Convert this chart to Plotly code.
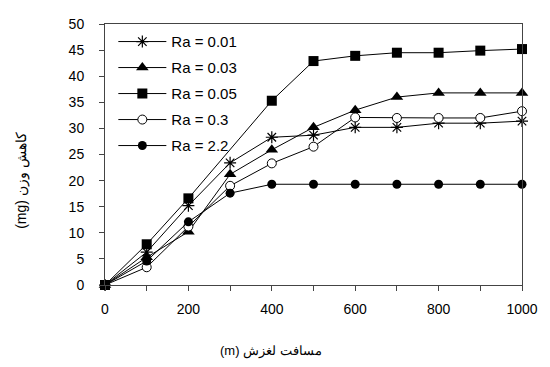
import plotly.graph_objects as go

distance = [0, 100, 200, 300, 400, 500, 600, 700, 800, 900, 1000]
ra_001 = [0, 6.3, 15.2, 23.4, 28.3, 28.7, 30.2, 30.2, 31.0, 31.0, 31.4]
ra_003 = [0, 5.3, 10.2, 21.2, 25.9, 30.2, 33.5, 36.0, 36.8, 36.8, 36.8]
ra_005 = [0, 7.8, 16.6, None, 35.3, 42.9, 43.9, 44.5, 44.5, 44.9, 45.2]
ra_03 = [0, 3.4, 11.2, 19.0, 23.3, 26.5, 32.1, 32.0, 32.0, 32.0, 33.3]
ra_22 = [0, 4.6, 12.1, 17.6, 19.3, 19.3, 19.3, 19.3, 19.3, 19.3, 19.3]

series_names = ["Ra = 0.01", "Ra = 0.03", "Ra = 0.05", "Ra = 0.3", "Ra = 2.2"]
x_tick_vals = [0, 100, 200, 300, 400, 500, 600, 700, 800, 900, 1000]
x_tick_text = ["0", "", "200", "", "400", "", "600", "", "800", "", "1000"]
y_tick_vals = [0, 5, 10, 15, 20, 25, 30, 35, 40, 45, 50]

styles = {
    "Ra = 0.01": dict(symbol="asterisk-open", size=10, color="black", line=dict(color="black", width=1.2)),
    "Ra = 0.03": dict(symbol="triangle-up", size=11, color="black", line=dict(color="black", width=0)),
    "Ra = 0.05": dict(symbol="square", size=10, color="black", line=dict(color="black", width=0)),
    "Ra = 0.3": dict(symbol="circle", size=9, color="white", line=dict(color="black", width=1)),
    "Ra = 2.2": dict(symbol="circle", size=9, color="black", line=dict(color="black", width=0)),
}
values = {"Ra = 0.01": ra_001, "Ra = 0.03": ra_003, "Ra = 0.05": ra_005, "Ra = 0.3": ra_03, "Ra = 2.2": ra_22}
draw_order = ["Ra = 0.01", "Ra = 0.03", "Ra = 0.3", "Ra = 2.2", "Ra = 0.05"]

fig = go.Figure()
for name in draw_order:
    fig.add_trace(go.Scatter(
        x=distance, y=values[name], name=name, mode="lines+markers",
        line=dict(color="black", width=1), marker=styles[name], connectgaps=True,
        cliponaxis=False, legendgroup=name, legendrank=series_names.index(name) + 1,
    ))

fig.update_layout(
    width=550, height=367,
    margin=dict(l=105, r=19, t=24, b=82),
    paper_bgcolor="white", plot_bgcolor="white",
    font=dict(family="Liberation Sans, Arial, sans-serif", size=14, color="black"),
    showlegend=True,
    legend=dict(x=0.02, y=0.995, xanchor="left", yanchor="top", bgcolor="rgba(0,0,0,0)",
                font=dict(size=15), tracegroupgap=3.5, traceorder="grouped", itemwidth=48),
    xaxis=dict(range=[0, 1000], tickmode="array", tickvals=x_tick_vals, ticktext=x_tick_text,
               ticks="outside", ticklen=5, tickcolor="#444", showgrid=False, zeroline=False,
               showline=True, linecolor="#444", linewidth=1, mirror=True, ticklabelstandoff=6),
    yaxis=dict(range=[0, 50], tickmode="array", tickvals=y_tick_vals,
               ticks="outside", ticklen=5, tickcolor="#444", showgrid=False, zeroline=False,
               showline=True, linecolor="#444", linewidth=1, mirror=True, ticklabelstandoff=12),
    annotations=[
        dict(text="(m) مسافت لغزش", xref="paper", yref="paper", x=(275 - 105) / 426, y=-(351 - 285) / 261,
             showarrow=False, xanchor="center", yanchor="middle", font=dict(size=13)),
        dict(text="(mg) کاهش وزن", xref="paper", yref="paper", x=-(105 - 20) / 426, y=(285 - 180) / 261,
             showarrow=False, xanchor="center", yanchor="middle", textangle=-90, font=dict(size=14)),
    ],
)

fig.write_html("out.html")
